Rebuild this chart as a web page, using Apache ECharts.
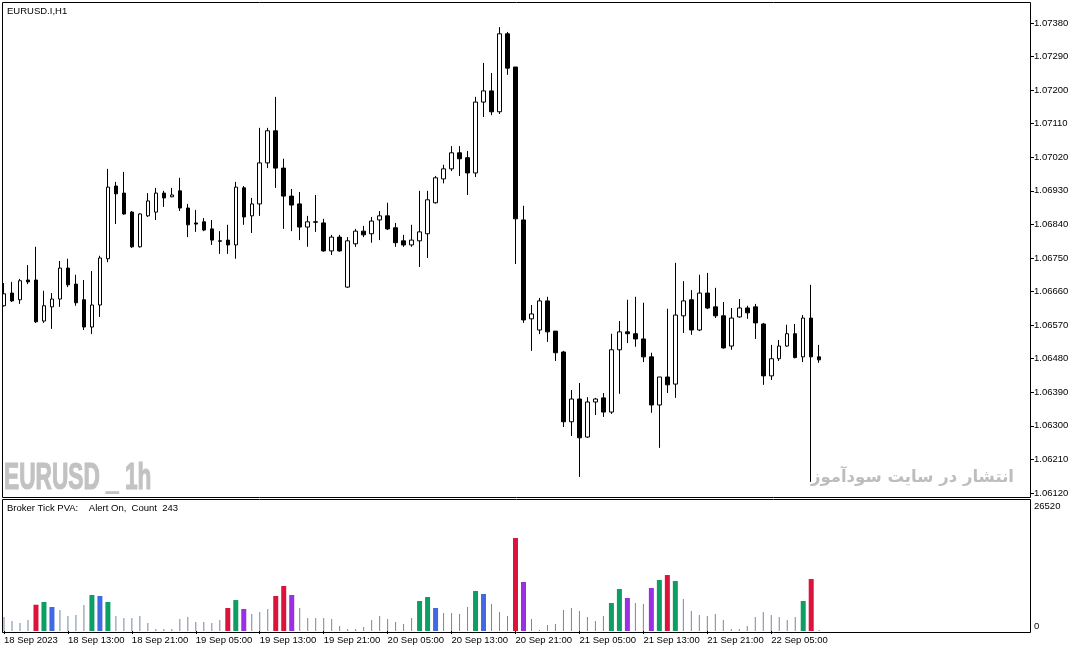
<!DOCTYPE html>
<html>
<head>
<meta charset="utf-8">
<script src="https://cdn.jsdelivr.net/npm/echarts@6/dist/echarts.min.js"></script>
<style>
html,body{margin:0;padding:0;background:#fff;}
#chart{width:1076px;height:653px;}
</style>
</head>
<body>
<div id="chart"></div>
<script>
// ---- data (EURUSD.I H1, 18 Sep 05:00 .. 22 Sep 07:00) ----
const opens  = [1.06622,1.06656,1.06638,1.06691,1.06691,1.06581,1.06619,1.06640,1.06723,1.06680,
  1.06638,1.06565,1.06624,1.06748,1.06943,1.06924,1.06873,1.06780,1.06863,1.06873,
  1.06924,1.06914,1.06930,1.06884,1.06844,1.06847,1.06828,1.06796,1.06798,1.06785,
  1.06938,1.06863,1.06895,1.07005,1.07091,1.06991,1.06916,1.06895,1.06833,1.06847,
  1.06844,1.06769,1.06806,1.06672,1.06788,1.06822,1.06815,1.06852,1.06863,1.06831,
  1.06796,1.06785,1.06796,1.06815,1.06898,1.06962,1.06989,1.07032,1.07019,1.06978,
  1.07168,1.07198,1.07142,1.07351,1.07262,1.06852,1.06587,1.06557,1.06635,1.06554,
  1.06498,1.06311,1.06372,1.06270,1.06364,1.06375,1.06337,1.06504,1.06552,1.06547,
  1.06533,1.06485,1.06356,1.06431,1.06412,1.06595,1.06638,1.06557,1.06656,1.06619,
  1.06595,1.06514,1.06592,1.06616,1.06619,1.06573,1.06434,1.06480,1.06514,1.06547,
  1.06485,1.06589,1.06485];
const closes = [1.06654,1.06635,1.06689,1.06686,1.06579,1.06622,1.06640,1.06723,1.06678,1.06630,
  1.06565,1.06624,1.06750,1.06940,1.06922,1.06868,1.06780,1.06868,1.06903,1.06924,
  1.06911,1.06919,1.06884,1.06839,1.06841,1.06825,1.06798,1.06795,1.06785,1.06940,
  1.06860,1.06895,1.07005,1.07091,1.06991,1.06916,1.06892,1.06833,1.06847,1.06846,
  1.06769,1.06806,1.06769,1.06796,1.06822,1.06812,1.06849,1.06863,1.06828,1.06791,
  1.06785,1.06798,1.06820,1.06906,1.06965,1.06989,1.07032,1.07016,1.06978,1.07168,
  1.07198,1.07142,1.07351,1.07259,1.06855,1.06584,1.06600,1.06635,1.06552,1.06496,
  1.06311,1.06372,1.06268,1.06364,1.06372,1.06337,1.06504,1.06552,1.06547,1.06533,
  1.06485,1.06356,1.06431,1.06410,1.06597,1.06635,1.06557,1.06656,1.06616,1.06595,
  1.06509,1.06589,1.06616,1.06603,1.06576,1.06434,1.06480,1.06514,1.06547,1.06483,
  1.06589,1.06485,1.06477];
const lows   = [1.06620,1.06632,1.06627,1.06680,1.06576,1.06576,1.06560,1.06619,1.06672,1.06622,
  1.06557,1.06546,1.06592,1.06739,1.06841,1.06866,1.06777,1.06778,1.06860,1.06852,
  1.06887,1.06913,1.06876,1.06806,1.06820,1.06822,1.06785,1.06761,1.06761,1.06748,
  1.06839,1.06817,1.06863,1.06991,1.06938,1.06828,1.06822,1.06798,1.06780,1.06820,
  1.06767,1.06758,1.06767,1.06670,1.06780,1.06806,1.06791,1.06798,1.06825,1.06780,
  1.06780,1.06780,1.06726,1.06750,1.06896,1.06950,1.06983,1.06970,1.06919,1.06967,
  1.07128,1.07133,1.07136,1.07241,1.06734,1.06576,1.06501,1.06546,1.06525,1.06474,
  1.06297,1.06273,1.06163,1.06268,1.06329,1.06324,1.06332,1.06386,1.06522,1.06512,
  1.06471,1.06335,1.06241,1.06388,1.06375,1.06549,1.06544,1.06554,1.06613,1.06589,
  1.06507,1.06504,1.06590,1.06587,1.06533,1.06410,1.06423,1.06474,1.06512,1.06481,
  1.06471,1.06150,1.06469];
const highs  = [1.06683,1.06686,1.06694,1.06731,1.06780,1.06662,1.06656,1.06742,1.06748,1.06705,
  1.06691,1.06715,1.06756,1.06989,1.06954,1.06981,1.06876,1.06870,1.06924,1.06938,
  1.06930,1.06938,1.06965,1.06895,1.06879,1.06857,1.06852,1.06822,1.06839,1.06954,
  1.06943,1.06911,1.07099,1.07099,1.07182,1.07016,1.06935,1.06927,1.06863,1.06919,
  1.06855,1.06812,1.06812,1.06806,1.06828,1.06836,1.06860,1.06876,1.06898,1.06844,
  1.06812,1.06839,1.06930,1.06930,1.06970,1.07000,1.07050,1.07050,1.07037,1.07182,
  1.07273,1.07246,1.07369,1.07356,1.07262,1.06890,1.06624,1.06643,1.06646,1.06554,
  1.06501,1.06396,1.06415,1.06377,1.06375,1.06388,1.06547,1.06581,1.06638,1.06646,
  1.06630,1.06496,1.06431,1.06614,1.06737,1.06688,1.06664,1.06705,1.06710,1.06670,
  1.06632,1.06616,1.06640,1.06622,1.06627,1.06576,1.06517,1.06530,1.06571,1.06573,
  1.06597,1.06678,1.06517];
const volumes = [2830,2020,1620,2230,5320,5870,4860,4250,3040,3240,
  5260,7290,7080,5870,3040,2630,2630,3040,1620,400,
  400,400,2430,2830,1820,1820,1620,2230,4660,6270,
  4450,3440,3850,4450,7080,9110,7290,4660,2630,2630,
  2630,2430,1010,400,400,810,2230,3040,2430,1820,
  1420,2630,6070,6880,4660,3640,3640,3440,4860,8100,
  7490,5460,3850,3040,18820,9920,2430,200,1210,1420,
  4250,4660,4050,2830,2020,3040,5670,8500,6680,5670,
  5460,8700,10320,11330,10120,6480,4050,3240,3040,3440,
  2230,400,400,1010,2830,3850,3240,2830,2230,2830,
  6070,10520,200];
// PVA class per bar: n normal, r red, g green, b blue, p purple
const pvaClass = ['n','n','n','n','r','g','b','n','n','n',
  'n','g','b','g','n','n','n','n','n','n',
  'n','n','n','n','n','n','n','n','r','g',
  'p','n','n','n','r','r','p','n','n','n',
  'n','n','n','n','n','n','n','n','n','n',
  'n','n','g','g','b','n','n','n','n','g',
  'b','n','n','n','r','p','n','n','n','n',
  'n','n','n','n','n','n','g','g','p','n',
  'n','p','g','r','g','n','n','n','n','n',
  'n','n','n','n','n','n','n','n','n','n',
  'g','r','n'];
const timeLabels = ['18 Sep 2023','18 Sep 13:00','18 Sep 21:00','19 Sep 05:00','19 Sep 13:00',
  '19 Sep 21:00','20 Sep 05:00','20 Sep 13:00','20 Sep 21:00','21 Sep 05:00',
  '21 Sep 13:00','21 Sep 21:00','22 Sep 05:00'];
const priceTicks = [1.07380,1.07290,1.07200,1.07110,1.07020,1.06930,1.06840,1.06750,
  1.06660,1.06570,1.06480,1.06390,1.06300,1.06210,1.06120];
const volMaxLabel = 26520;

// ---- build ----
const SLOTS = 129, LABEL_STEP = 8;
const cats = [];
for (let i = 0; i < SLOTS; i++) cats.push(String(i));
const labelAt = i => (i % LABEL_STEP === 0 && i / LABEL_STEP < timeLabels.length) ? timeLabels[i / LABEL_STEP] : '';
const candleData = opens.map((o, i) => [o, closes[i], lows[i], highs[i]]);
const colorMap = {r:'#DC143C', g:'#0B9F63', b:'#4169E1', p:'#9B2FE3'};
const grayData = volumes.map((v, i) => pvaClass[i] === 'n' ? v : '-');
const colData = volumes.map((v, i) => pvaClass[i] !== 'n' ? {value: v, itemStyle: {color: colorMap[pvaClass[i]]}} : '-');

const FONT = 'Liberation Sans';
const chart = echarts.init(document.getElementById('chart'), null, {renderer: 'canvas'});
chart.setOption({
  animation: false,
  backgroundColor: '#ffffff',
  grid: [
    {left: -1, right: 45, top: 3, height: 494},
    {left: -1, right: 45, top: 500, height: 131}
  ],
  xAxis: [
    {type: 'category', gridIndex: 0, data: cats, boundaryGap: true, show: false},
    {type: 'category', gridIndex: 1, data: cats, boundaryGap: true,
     axisLine: {show: false},
     axisTick: {show: true, alignWithLabel: true, length: 3, lineStyle: {color: '#000'},
       interval: i => labelAt(i) !== ''},
     axisLabel: {show: true, interval: i => labelAt(i) !== '', formatter: (v, i) => labelAt(i),
       align: 'left', margin: 4, fontSize: 9.5, fontFamily: FONT, color: '#000'},
     splitLine: {show: false}},
    {type: 'category', gridIndex: 1, data: cats, boundaryGap: true, show: false}
  ],
  yAxis: [
    {type: 'value', gridIndex: 0, position: 'right', min: 1.061093, max: 1.074336,
     axisLine: {show: false}, splitLine: {show: false},
     axisTick: {show: true, length: 3, customValues: priceTicks, lineStyle: {color: '#000'}},
     axisLabel: {show: true, customValues: priceTicks, margin: 3, fontSize: 9.5, fontFamily: FONT,
       color: '#000', formatter: v => v.toFixed(5)}},
    {type: 'value', gridIndex: 1, position: 'right', min: 0, max: volMaxLabel,
     axisLine: {show: false}, splitLine: {show: false}, axisTick: {show: false},
     axisLabel: {show: true, customValues: [volMaxLabel], verticalAlign: 'top', margin: 3,
       fontSize: 9.5, fontFamily: FONT, color: '#000', padding: [1, 0, 0, 0], formatter: v => String(Math.round(v))}},
    {type: 'value', gridIndex: 1, position: 'right', min: 0, max: volMaxLabel,
     axisLine: {show: false}, splitLine: {show: false}, axisTick: {show: false},
     axisLabel: {show: true, customValues: [0], verticalAlign: 'bottom', margin: 3,
       fontSize: 9.5, fontFamily: FONT, color: '#000', formatter: v => String(Math.round(v))}}
  ],
  series: [
    {type: 'candlestick', xAxisIndex: 0, yAxisIndex: 0, data: candleData, barWidth: 4,
     itemStyle: {color: '#ffffff', color0: '#000000', borderColor: '#000000', borderColor0: '#000000',
       borderColorDoji: '#000000', borderWidth: 1}},
    {type: 'bar', xAxisIndex: 1, yAxisIndex: 1, data: grayData, barWidth: 1,
     itemStyle: {color: '#7486A0'}},
    {type: 'bar', xAxisIndex: 2, yAxisIndex: 1, data: colData, barWidth: 5}
  ],
  graphic: [
    {type: 'rect', silent: true, shape: {x: 2.5, y: 2.5, width: 1028, height: 495},
     style: {fill: 'none', stroke: '#000', lineWidth: 1}},
    {type: 'rect', silent: true, shape: {x: 2.5, y: 499.5, width: 1028, height: 133},
     style: {fill: 'none', stroke: '#000', lineWidth: 1}},
    {type: 'text', x: 7, y: 11, silent: true,
     style: {text: 'EURUSD.I,H1', fill: '#000', fontSize: 9.5, fontFamily: FONT,
       textAlign: 'left', textVerticalAlign: 'middle', align: 'left', verticalAlign: 'middle'}},
    {type: 'text', x: 7, y: 508, silent: true,
     style: {text: 'Broker Tick PVA:    Alert On,  Count  243', fill: '#000', fontSize: 9.5, fontFamily: FONT,
       textAlign: 'left', textVerticalAlign: 'middle', align: 'left', verticalAlign: 'middle'}},
    {type: 'text', x: 4, y: 479, scaleX: 0.63, silent: true,
     style: {text: 'EURUSD _ 1h', fill: '#C2C2C2', fontSize: 36, fontWeight: 'bold', fontFamily: FONT,
       stroke: '#C2C2C2', lineWidth: 1.2,
       textAlign: 'left', textVerticalAlign: 'middle', align: 'left', verticalAlign: 'middle'}},
    {type: 'text', x: 1014, y: 478, silent: true,
     style: {text: 'انتشار در سایت سودآموز', fill: '#BDBDBD', fontSize: 16.5, fontWeight: 'bold', fontFamily: 'DejaVu Sans',
       textAlign: 'right', textVerticalAlign: 'middle', align: 'right', verticalAlign: 'middle'}}
  ]
});
</script>
</body>
</html>
